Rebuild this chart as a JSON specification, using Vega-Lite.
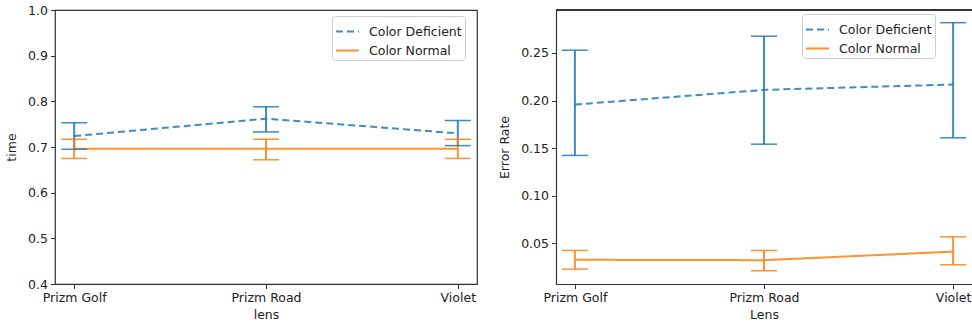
{
  "$schema": "https://vega.github.io/schema/vega-lite/v6.json",
  "padding": {"left": 5, "top": 3, "right": 0, "bottom": 0},
  "background": "white",
  "datasets": {
    "time": [
      {"lens": "Prizm Golf", "group": "Color Deficient", "mean": 0.724, "lo": 0.695, "hi": 0.753},
      {"lens": "Prizm Road", "group": "Color Deficient", "mean": 0.762, "lo": 0.733, "hi": 0.788},
      {"lens": "Violet", "group": "Color Deficient", "mean": 0.730, "lo": 0.703, "hi": 0.758},
      {"lens": "Prizm Golf", "group": "Color Normal", "mean": 0.696, "lo": 0.675, "hi": 0.717},
      {"lens": "Prizm Road", "group": "Color Normal", "mean": 0.696, "lo": 0.672, "hi": 0.717},
      {"lens": "Violet", "group": "Color Normal", "mean": 0.696, "lo": 0.675, "hi": 0.717}
    ],
    "err": [
      {"lens": "Prizm Golf", "group": "Color Deficient", "mean": 0.1958, "lo": 0.1424, "hi": 0.2528},
      {"lens": "Prizm Road", "group": "Color Deficient", "mean": 0.2112, "lo": 0.1542, "hi": 0.2675},
      {"lens": "Violet", "group": "Color Deficient", "mean": 0.2168, "lo": 0.1609, "hi": 0.2817},
      {"lens": "Prizm Golf", "group": "Color Normal", "mean": 0.0329, "lo": 0.0231, "hi": 0.0427},
      {"lens": "Prizm Road", "group": "Color Normal", "mean": 0.0325, "lo": 0.0214, "hi": 0.0427},
      {"lens": "Violet", "group": "Color Normal", "mean": 0.0415, "lo": 0.0277, "hi": 0.0570}
    ]
  },
  "config": {
    "font": "DejaVu Sans",
    "axis": {
      "labelFontSize": 12.5, "titleFontSize": 12.5, "titleFontWeight": "normal",
      "labelColor": "#222", "titleColor": "#222", "tickColor": "#333", "tickSize": 4.5,
      "tickWidth": 1, "grid": false, "domainColor": "#333", "domainWidth": 1.2, "labelPadding": 3
    },
    "legend": {
      "labelFontSize": 12.5, "labelColor": "#222", "strokeColor": "#cccccc", "fillColor": "white",
      "padding": 3, "cornerRadius": 3, "symbolType": "stroke", "symbolSize": 529,
      "symbolStrokeWidth": 2, "rowPadding": -4, "labelOffset": 9, "symbolOpacity": 0.85
    },
    "view": {"stroke": "#333", "strokeWidth": 1.2}
  },
  "bounds": "flush",
  "spacing": 79,
  "resolve": {
    "scale": {"color": "independent", "strokeDash": "independent"},
    "legend": {"color": "independent", "strokeDash": "independent"}
  },
  "hconcat": [
    {
      "width": 422,
      "height": 274,
      "data": {"name": "time"},
      "encoding": {
        "x": {"field": "lens", "type": "nominal", "sort": ["Prizm Golf", "Prizm Road", "Violet"],
              "scale": {"type": "point", "padding": 0.1},
              "axis": {"title": "lens", "labelAngle": 0, "domain": false, "titlePadding": 4}}
      },
      "layer": [
        {
          "mark": {"type": "line", "strokeWidth": 2, "opacity": 0.85},
          "encoding": {
            "y": {"field": "mean", "type": "quantitative", "title": "time",
                  "scale": {"domain": [0.4, 1.0], "nice": false, "zero": false},
                  "axis": {"values": [0.4, 0.5, 0.6, 0.7, 0.8, 0.9, 1.0], "format": ".1f", "domain": false, "titlePadding": 9}},
            "color": {"field": "group", "type": "nominal",
                      "scale": {"domain": ["Color Deficient", "Color Normal"], "range": ["#1f77b4", "#ff7f0e"]},
                      "legend": {"title": null, "orient": "none", "legendX": 277, "legendY": 6}},
            "strokeDash": {"field": "group", "type": "nominal",
                           "scale": {"domain": ["Color Deficient", "Color Normal"], "range": [[7, 4], [1, 0]]},
                           "legend": {"title": null, "orient": "none", "legendX": 277, "legendY": 6}}
          }
        },
        {
          "mark": {"type": "rule", "strokeWidth": 2, "opacity": 0.85},
          "encoding": {
            "y": {"field": "lo", "type": "quantitative", "title": "time"},
            "y2": {"field": "hi"},
            "color": {"field": "group", "type": "nominal"}
          }
        },
        {
          "mark": {"type": "tick", "thickness": 1.5, "size": 26, "orient": "horizontal", "opacity": 0.85},
          "encoding": {
            "y": {"field": "lo", "type": "quantitative", "title": "time"},
            "color": {"field": "group", "type": "nominal"}
          }
        },
        {
          "mark": {"type": "tick", "thickness": 1.5, "size": 26, "orient": "horizontal", "opacity": 0.85},
          "encoding": {
            "y": {"field": "hi", "type": "quantitative", "title": "time"},
            "color": {"field": "group", "type": "nominal"}
          }
        }
      ]
    },
    {
      "width": 416,
      "height": 274,
      "data": {"name": "err"},
      "view": {"stroke": null},
      "encoding": {
        "x": {"field": "lens", "type": "nominal", "sort": ["Prizm Golf", "Prizm Road", "Violet"],
              "scale": {"type": "point", "padding": 0.1},
              "axis": {"title": "Lens", "labelAngle": 0, "domain": true, "titlePadding": 4}}
      },
      "layer": [
        {
          "mark": {"type": "line", "strokeWidth": 2, "opacity": 0.85},
          "encoding": {
            "y": {"field": "mean", "type": "quantitative", "title": "Error Rate",
                  "scale": {"domain": [0.0075, 0.295], "nice": false, "zero": false},
                  "axis": {"values": [0.05, 0.1, 0.15, 0.2, 0.25], "format": ".2f", "domain": true, "titlePadding": 9}},
            "color": {"field": "group", "type": "nominal",
                      "scale": {"domain": ["Color Deficient", "Color Normal"], "range": ["#1f77b4", "#ff7f0e"]},
                      "legend": {"title": null, "orient": "none", "legendX": 246, "legendY": 4}},
            "strokeDash": {"field": "group", "type": "nominal",
                           "scale": {"domain": ["Color Deficient", "Color Normal"], "range": [[7, 4], [1, 0]]},
                           "legend": {"title": null, "orient": "none", "legendX": 246, "legendY": 4}}
          }
        },
        {
          "mark": {"type": "rule", "strokeWidth": 2, "opacity": 0.85},
          "encoding": {
            "y": {"field": "lo", "type": "quantitative", "title": "Error Rate"},
            "y2": {"field": "hi"},
            "color": {"field": "group", "type": "nominal"}
          }
        },
        {
          "mark": {"type": "tick", "thickness": 1.5, "size": 26, "orient": "horizontal", "opacity": 0.85},
          "encoding": {
            "y": {"field": "lo", "type": "quantitative", "title": "Error Rate"},
            "color": {"field": "group", "type": "nominal"}
          }
        },
        {
          "mark": {"type": "tick", "thickness": 1.5, "size": 26, "orient": "horizontal", "opacity": 0.85},
          "encoding": {
            "y": {"field": "hi", "type": "quantitative", "title": "Error Rate"},
            "color": {"field": "group", "type": "nominal"}
          }
        },
        {
          "mark": {"type": "rule", "color": "#333", "strokeWidth": 1.2},
          "encoding": {
            "x": {"value": 0},
            "x2": {"value": 420},
            "y": {"datum": 0.295}
          }
        }
      ]
    }
  ]
}
